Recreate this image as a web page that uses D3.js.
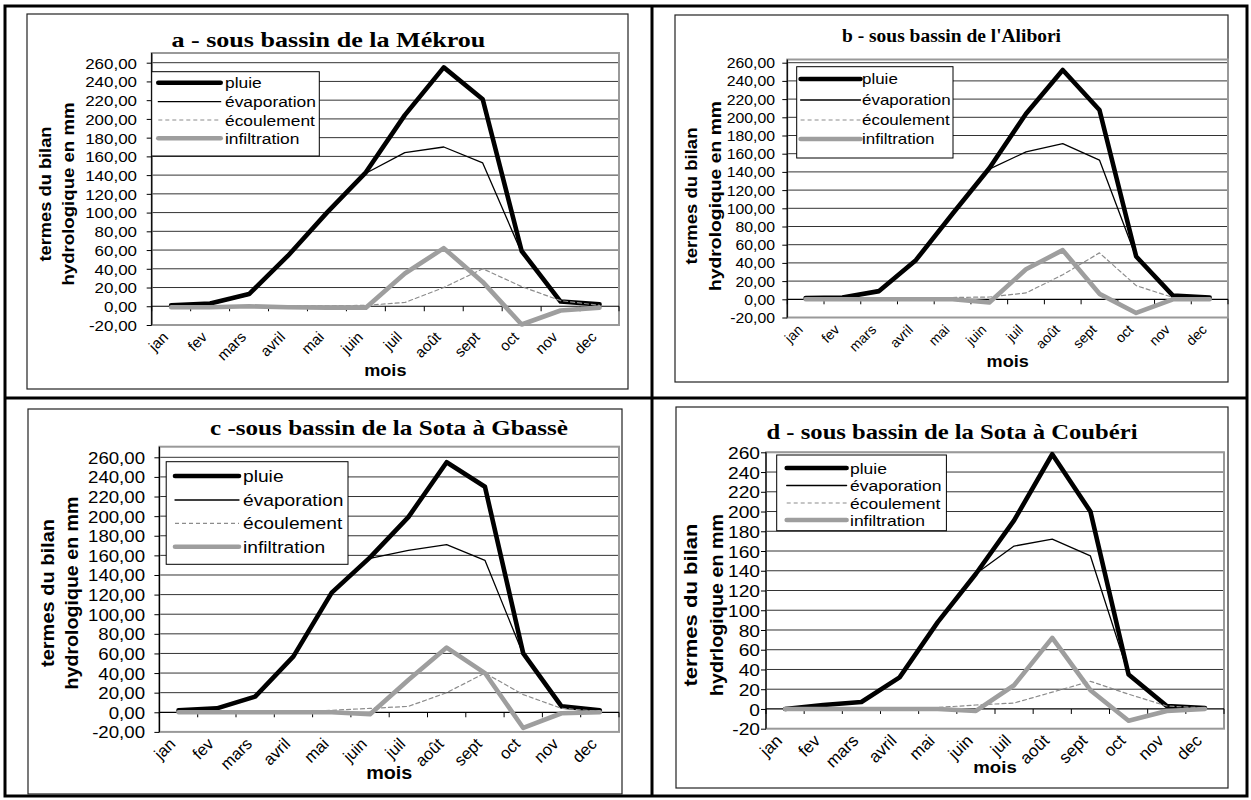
<!DOCTYPE html>
<html>
<head>
<meta charset="utf-8">
<script src="https://cdn.jsdelivr.net/npm/d3@7"></script>
<style>
  body { margin: 0; background: #fff; }
  svg { display: block; }
  text { font-family: "Liberation Sans", Arial, sans-serif; fill: #000; }
</style>
</head>
<body>
<svg id="fig" width="1251" height="800"></svg>
<script>
// categories and series names
const months = ["jan", "fev", "mars", "avril", "mai", "juin", "juil", "août", "sept", "oct", "nov", "dec"];
const seriesNames = ["pluie", "évaporation", "écoulement", "infiltration"];
const yTicks = [-20, 0, 20, 40, 60, 80, 100, 120, 140, 160, 180, 200, 220, 240, 260];

// a - Mékrou
const pluieA = [1, 3, 13, 54, 100, 143, 204, 255, 221, 59, 5, 2];
const evapA  = [1, 2, 12, 54, 99, 142, 164, 170, 153, 57, 5, 2];
const ecoulA = [0, 0, 0.5, 0.5, 0.5, 1, 4, 20, 40, 21, 6, 1];
const infilA = [-1, -1, 0, -1, -1.5, -1.5, 35, 62, 26, -19.5, -4.5, -1.5];

// b - Alibori
const pluieB = [1.5, 2, 9, 43, 94, 144, 204, 252, 208, 47, 4, 2];
const evapB  = [1.5, 2, 9, 43, 94, 143, 162, 171, 153, 46, 3, 2];
const ecoulB = [0.5, 0.5, 0.5, 1, 2, 2.5, 7, 27, 51, 15, 2, 1];
const infilB = [0, 0, 0, 0, 0, -3.5, 33, 54, 6, -15, 0, 0];

// c - Sota à Gbassè
const pluieC = [2, 4, 16, 57, 122, 158, 199, 255, 230, 60, 6, 2];
const evapC  = [2, 4, 16, 57, 122, 157, 165, 171, 155, 59, 5, 2];
const ecoulC = [0, 0, 0.5, 1, 2, 4, 6, 20, 40, 18, 4, 1];
const infilC = [0, 0, 0, 0, 0, -2, 33, 66, 40, -16, -1, 0];

// d - Sota à Coubéri
const pluieD = [0, 4, 7, 32, 88, 137, 191, 258, 200, 35, 3, 1];
const evapD  = [0, 4, 7, 32, 88, 137, 165, 172, 155, 35, 3, 1];
const ecoulD = [0, 1, 1, 1, 1.5, 4, 6, 17, 28, 15, 3, 1];
const infilD = [0, 0, 0, 0, 0, -2, 24, 72, 19, -12, -2, 0];

const titles = [
  "a - sous bassin de la Mékrou",
  "b - sous bassin de l'Alibori",
  "c -sous bassin de la Sota à Gbassè",
  "d - sous bassin de la Sota à Coubéri"
];
const yTitles = [
  ["termes du bilan", "hydrologique en mm"],
  ["termes du bilan", "hydrologique en mm"],
  ["termes du bilan", "hydrologique en mm"],
  ["termes du bilan", "hydrlogique en mm"]
];
const xTitle = "mois";

const commaFmt = v => (v < 0 ? "-" : "") + Math.abs(v).toFixed(2).replace(".", ",");
const intFmt = v => String(v);

// line styles per series
const styles = [
  { color: "#000", width: 4.6, dash: null },
  { color: "#000", width: 1.3, dash: null },
  { color: "#8c8c8c", width: 1.2, dash: "4,3" },
  { color: "#9e9e9e", width: 4.6, dash: null }
];

const SX = 1.13; // text is a little wide in the original

// layout of each panel (pixel positions only)
const panels = [
  { data: [pluieA, evapA, ecoulA, infilA], fmt: commaFmt,
    frame: [27, 14, 628, 389], x0: 151.7, x1: 619, top: 53, yLow: 325, yHigh: 62.7, tickRight: 137, fs: 15,
    legend: { box: [151.7, 71.7, 319.3, 156], rows: [82.7, 101.7, 120, 138.3], lx: [158.3, 220.7], tx: 225, fs: 15.4 },
    title: { x: 328.4, y: 46.7, len: 314, fs: 21 },
    mois: { y: 376, fs: 16 },
    yt: { x1: 44.6, x2: 67.8, cy: 194, len1: 135, len2: 183, fs: 17 } },
  { data: [pluieB, evapB, ecoulB, infilB], fmt: commaFmt,
    frame: [675, 15, 1228, 382], x0: 787.3, x1: 1228, top: 59.5, yLow: 317.5, yHigh: 62.7, tickRight: 775, fs: 14,
    legend: { box: [796.7, 66.7, 953, 158], rows: [79, 100, 120, 139], lx: [800.6, 860.5], tx: 862, fs: 15 },
    title: { x: 951.5, y: 41.7, len: 219, fs: 18 },
    mois: { y: 367, fs: 16 },
    yt: { x1: 691, x2: 715, cy: 196, len1: 137, len2: 190, fs: 17 } },
  { data: [pluieC, evapC, ecoulC, infilC], fmt: commaFmt,
    frame: [28, 409, 622, 794], x0: 159.4, x1: 619, top: 446.7, yLow: 731.9, yHigh: 457.3, tickRight: 145, fs: 16.5,
    legend: { box: [166.2, 461.7, 348, 564.3], rows: [476, 500, 523.3, 546.7], lx: [175, 239], tx: 243, fs: 17 },
    title: { x: 389, y: 435, len: 358, fs: 22 },
    mois: { y: 779, fs: 17.5 },
    yt: { x1: 47.8, x2: 71.7, cy: 593, len1: 148, len2: 193, fs: 18 } },
  { data: [pluieD, evapD, ecoulD, infilD], fmt: intFmt,
    frame: [676, 407, 1228, 788], x0: 766, x1: 1224, top: 452.3, yLow: 728.7, yHigh: 452.3, tickRight: 760, fs: 17,
    legend: { box: [776.7, 455, 946.4, 530.7], rows: [468, 485.5, 503, 520], lx: [786.7, 846.6], tx: 850, fs: 15.5 },
    title: { x: 952, y: 439.3, len: 371, fs: 22 },
    mois: { y: 773, fs: 16.5 },
    yt: { x1: 691, x2: 717, cy: 605, len1: 163, len2: 182, fs: 18 } }
];

const svg = d3.select("#fig");

// table borders
svg.append("rect").attr("x", 5).attr("y", 6).attr("width", 1242).attr("height", 790)
  .attr("fill", "none").attr("stroke", "#000").attr("stroke-width", 3);
svg.append("line").attr("x1", 652).attr("x2", 652).attr("y1", 6).attr("y2", 796)
  .attr("stroke", "#000").attr("stroke-width", 3);
svg.append("line").attr("x1", 5).attr("x2", 1247).attr("y1", 398).attr("y2", 398)
  .attr("stroke", "#000").attr("stroke-width", 3);

panels.forEach((p, i) => drawPanel(p, i));

function drawPanel(p, i) {
  const g = svg.append("g");
  const [fx0, fy0, fx1, fy1] = p.frame;

  // chart frame
  g.append("rect").attr("x", fx0).attr("y", fy0).attr("width", fx1 - fx0).attr("height", fy1 - fy0)
    .attr("fill", "#fff").attr("stroke", "#222").attr("stroke-width", 1.2);

  const x = d3.scaleBand().domain(months).range([p.x0, p.x1]);
  const y = d3.scaleLinear().domain([-20, 260]).range([p.yLow, p.yHigh]);
  const cx = m => x(m) + x.bandwidth() / 2;

  // gridlines
  g.append("g").selectAll("line").data(yTicks.filter(v => v > -20 && v !== 0)).enter().append("line")
    .attr("x1", p.x0).attr("x2", p.x1)
    .attr("y1", d => y(d)).attr("y2", d => y(d))
    .attr("stroke", "#333").attr("stroke-width", 1);

  // plot area border
  g.append("rect").attr("x", p.x0).attr("y", p.top).attr("width", p.x1 - p.x0).attr("height", p.yLow - p.top)
    .attr("fill", "none").attr("stroke", "#999").attr("stroke-width", 2);

  // y axis
  const yAxis = g.append("g").attr("transform", `translate(${p.x0},0)`)
    .call(d3.axisLeft(y).tickValues(yTicks).tickSize(5).tickFormat(p.fmt));
  yAxis.select(".domain").attr("d", `M0,${p.top}V${p.yLow}`).attr("stroke", "#000").attr("stroke-width", 1.2);
  yAxis.selectAll(".tick line").attr("stroke", "#000");
  yAxis.selectAll(".tick text")
    .attr("x", -(p.x0 - p.tickRight) / SX)
    .attr("dy", "0.36em")
    .attr("transform", `scale(${SX},1)`)
    .style("font-family", "'Liberation Sans', Arial, sans-serif")
    .style("font-size", p.fs + "px")
    .attr("fill", "#000");

  // category axis on the zero line, ticks between categories
  const y0 = y(0);
  g.append("line").attr("x1", p.x0).attr("x2", p.x1).attr("y1", y0).attr("y2", y0)
    .attr("stroke", "#000").attr("stroke-width", 1.2);
  g.append("g").selectAll("line").data(d3.range(0, months.length + 1)).enter().append("line")
    .attr("x1", k => p.x0 + k * x.step()).attr("x2", k => p.x0 + k * x.step())
    .attr("y1", y0).attr("y2", y0 + 5)
    .attr("stroke", "#000").attr("stroke-width", 1);

  // category labels below the plot area, slanted 45 degrees
  g.append("g").selectAll("g").data(months).enter().append("g")
    .attr("transform", m => `translate(${cx(m) - 2},${p.yLow + 13})`)
    .append("text")
    .attr("transform", "rotate(-45)")
    .attr("text-anchor", "end")
    .style("font-size", p.fs + "px")
    .text(m => m);

  // series
  const line = d3.line().x((d, k) => cx(months[k])).y(d => y(d));
  p.data.forEach((vals, s) => {
    const st = styles[s];
    g.append("path").datum(vals).attr("d", line)
      .attr("fill", "none").attr("stroke", st.color).attr("stroke-width", st.width)
      .attr("stroke-dasharray", st.dash).attr("stroke-linejoin", "round").attr("stroke-linecap", "round");
  });

  // legend
  const L = p.legend;
  g.append("rect").attr("x", L.box[0]).attr("y", L.box[1])
    .attr("width", L.box[2] - L.box[0]).attr("height", L.box[3] - L.box[1])
    .attr("fill", "#fff").attr("stroke", "#000").attr("stroke-width", 1);
  seriesNames.forEach((name, s) => {
    const st = styles[s];
    const ly = L.rows[s];
    g.append("line").attr("x1", L.lx[0]).attr("x2", L.lx[1]).attr("y1", ly).attr("y2", ly)
      .attr("stroke", st.color).attr("stroke-width", st.width)
      .attr("stroke-dasharray", st.dash).attr("stroke-linecap", st.dash ? "butt" : "round");
    g.append("text").attr("transform", `translate(${L.tx},${ly}) scale(${SX},1)`)
      .attr("dy", "0.36em").style("font-size", L.fs + "px").text(name);
  });

  // title
  g.append("text").attr("x", p.title.x).attr("y", p.title.y)
    .attr("text-anchor", "middle")
    .attr("textLength", p.title.len).attr("lengthAdjust", "spacingAndGlyphs")
    .style("font-family", "'Liberation Serif', 'Times New Roman', serif")
    .style("font-weight", "bold").style("font-size", p.title.fs + "px")
    .text(titles[i]);

  // x title
  g.append("text").attr("transform", `translate(${(p.x0 + p.x1) / 2},${p.mois.y}) scale(${SX},1)`)
    .attr("text-anchor", "middle").style("font-weight", "bold").style("font-size", p.mois.fs + "px")
    .text(xTitle);

  // y title, two lines
  const yt = p.yt;
  [[yt.x1, yt.len1], [yt.x2, yt.len2]].forEach(([tx, len], k) => {
    g.append("text")
      .attr("transform", `translate(${tx + 0.36 * yt.fs},${yt.cy}) rotate(-90)`)
      .attr("text-anchor", "middle")
      .attr("textLength", len).attr("lengthAdjust", "spacingAndGlyphs")
      .style("font-weight", "bold").style("font-size", yt.fs + "px")
      .text(yTitles[i][k]);
  });
}
</script>
</body>
</html>
